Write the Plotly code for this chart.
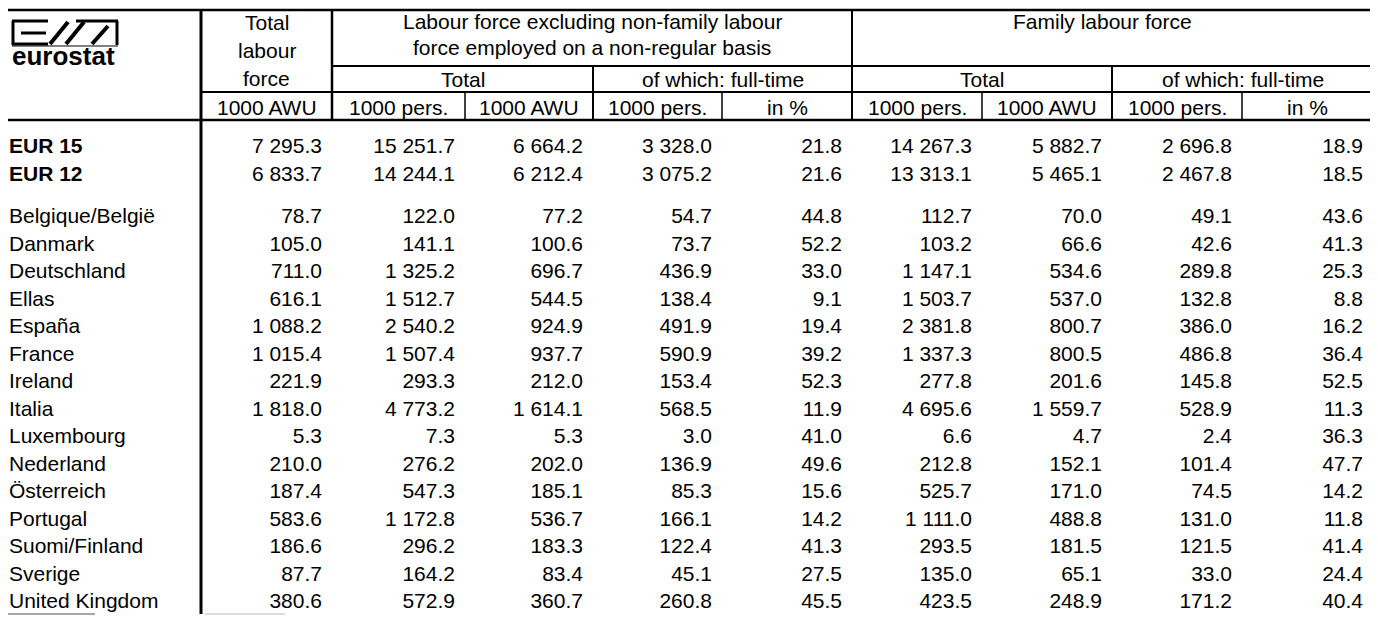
import plotly.graph_objects as go

# Eurostat table: labour force in agriculture, EUR 15 and member states

countries = ["EUR 15", "EUR 12",
             "Belgique/België", "Danmark", "Deutschland", "Ellas", "España",
             "France", "Ireland", "Italia", "Luxembourg", "Nederland",
             "Österreich", "Portugal", "Suomi/Finland", "Sverige", "United Kingdom"]

total_awu = [7295.3, 6833.7, 78.7, 105.0, 711.0, 616.1, 1088.2, 1015.4, 221.9,
             1818.0, 5.3, 210.0, 187.4, 583.6, 186.6, 87.7, 380.6]
lab_total_pers = [15251.7, 14244.1, 122.0, 141.1, 1325.2, 1512.7, 2540.2, 1507.4, 293.3,
                  4773.2, 7.3, 276.2, 547.3, 1172.8, 296.2, 164.2, 572.9]
lab_total_awu = [6664.2, 6212.4, 77.2, 100.6, 696.7, 544.5, 924.9, 937.7, 212.0,
                 1614.1, 5.3, 202.0, 185.1, 536.7, 183.3, 83.4, 360.7]
lab_ft_pers = [3328.0, 3075.2, 54.7, 73.7, 436.9, 138.4, 491.9, 590.9, 153.4,
               568.5, 3.0, 136.9, 85.3, 166.1, 122.4, 45.1, 260.8]
lab_ft_pct = [21.8, 21.6, 44.8, 52.2, 33.0, 9.1, 19.4, 39.2, 52.3,
              11.9, 41.0, 49.6, 15.6, 14.2, 41.3, 27.5, 45.5]
fam_total_pers = [14267.3, 13313.1, 112.7, 103.2, 1147.1, 1503.7, 2381.8, 1337.3, 277.8,
                  4695.6, 6.6, 212.8, 525.7, 1111.0, 293.5, 135.0, 423.5]
fam_total_awu = [5882.7, 5465.1, 70.0, 66.6, 534.6, 537.0, 800.7, 800.5, 201.6,
                 1559.7, 4.7, 152.1, 171.0, 488.8, 181.5, 65.1, 248.9]
fam_ft_pers = [2696.8, 2467.8, 49.1, 42.6, 289.8, 132.8, 386.0, 486.8, 145.8,
               528.9, 2.4, 101.4, 74.5, 131.0, 121.5, 33.0, 171.2]
fam_ft_pct = [18.9, 18.5, 43.6, 41.3, 25.3, 8.8, 16.2, 36.4, 52.5,
              11.3, 36.3, 47.7, 14.2, 11.8, 41.4, 24.4, 40.4]

units = ["1000 AWU", "1000 pers.", "1000 AWU", "1000 pers.", "in %",
         "1000 pers.", "1000 AWU", "1000 pers.", "in %"]

columns = [total_awu, lab_total_pers, lab_total_awu, lab_ft_pers, lab_ft_pct,
           fam_total_pers, fam_total_awu, fam_ft_pers, fam_ft_pct]

# layout (pixel grid of the page); the page body has an 8px margin,
# so the figure is drawn 8px smaller and its axes start at 8
W, H = 1378, 617
PAD = 8
bounds = [201, 332, 465, 593, 722, 852, 982, 1112, 1242, 1373]
FONT = "Arial, Liberation Sans, sans-serif"
FS = 21


def row_y(i):
    if i < 2:
        return 148 + i * 28
    return 218 + (i - 2) * 27.5


def fmt(v):
    return f"{v:,.1f}".replace(",", " ")


ys = [row_y(i) for i in range(len(countries))]

fig = go.Figure()

# country names
fig.add_trace(go.Scatter(
    x=[9] * len(countries), y=ys, mode="text",
    text=[f"<b>{c}</b>" if c.startswith("EUR") else c for c in countries],
    textposition="middle right",
    textfont=dict(family=FONT, size=FS, color="black"),
    hoverinfo="skip", showlegend=False))

# numeric columns, right aligned
for k, col in enumerate(columns):
    xr = bounds[k + 1] - 10
    fig.add_trace(go.Scatter(
        x=[xr] * len(col), y=ys, mode="text",
        text=[fmt(v) for v in col],
        textposition="middle left",
        textfont=dict(family=FONT, size=FS, color="black"),
        hoverinfo="skip", showlegend=False))

ann = []


def label(x, y, t):
    ann.append(dict(x=x, y=y, xref="x", yref="y", text=t, showarrow=False,
                    xanchor="center", yanchor="middle",
                    font=dict(family=FONT, size=FS, color="black")))


c0 = (bounds[0] + bounds[1]) / 2
label(c0, 22, "Total")
label(c0, 50, "labour")
label(c0, 78, "force")
label((bounds[1] + bounds[5]) / 2, 21, "Labour force excluding non-family labour")
label((bounds[1] + bounds[5]) / 2, 47, "force employed on a non-regular basis")
label(1102, 21, "Family labour force")
label((bounds[1] + bounds[3]) / 2, 79, "Total")
label((bounds[3] + bounds[5]) / 2, 79, "of which: full-time")
label((bounds[5] + bounds[7]) / 2, 79, "Total")
label((bounds[7] + bounds[9]) / 2, 79, "of which: full-time")
for k, u in enumerate(units):
    label((bounds[k] + bounds[k + 1]) / 2, 107, u)

# eurostat logo text
ann.append(dict(x=10, y=56, xref="x", yref="y", text="<b>eurostat</b>", showarrow=False,
                xanchor="left", yanchor="middle",
                font=dict(family="Liberation Sans, Arial", size=26, color="black")))

shapes = []


def hline(y, x0, x1, w=2, color="black"):
    shapes.append(dict(type="line", xref="x", yref="y", x0=x0, x1=x1, y0=y, y1=y,
                       line=dict(color=color, width=w)))


def vline(x, y0, y1, w=2, color="black"):
    shapes.append(dict(type="line", xref="x", yref="y", x0=x, x1=x, y0=y0, y1=y1,
                       line=dict(color=color, width=w)))


hline(10, 8, 1373, 2.5)
hline(66, bounds[1], 1373, 2)
hline(92, bounds[0], 1373, 2)
hline(120, 8, 1373, 2.5)
vline(bounds[0], 10, 614, 3)
vline(bounds[1], 10, 120, 2.5)
vline(bounds[5], 10, 120, 2)
for b in (bounds[3], bounds[7]):
    vline(b, 66, 120, 2)
for b in (bounds[2], bounds[4], bounds[6], bounds[8]):
    vline(b, 92, 120, 1.5)
hline(614, 8, 95, 1.5, "#888")
hline(614, 205, 285, 1, "#bbb")

# logo graphic
logo = [
    (12, 21, 48, 21, 3), (13, 21, 13, 45, 3), (12, 44, 48, 44, 3), (21, 33, 46, 33, 3),
    (50, 44, 68, 22, 4), (66, 44, 84, 22, 4), (76, 21, 118, 21, 3),
    (117, 21, 117, 45, 3), (92, 44, 108, 26, 4), (12, 46, 118, 46, 1),
]
for x0, y0, x1, y1, w in logo:
    shapes.append(dict(type="line", xref="x", yref="y", x0=x0, x1=x1, y0=y0, y1=y1,
                       line=dict(color="black", width=w)))

fig.update_layout(
    width=W - PAD, height=H - PAD,
    margin=dict(l=0, r=0, t=0, b=0),
    paper_bgcolor="white", plot_bgcolor="white",
    xaxis=dict(range=[PAD, W], visible=False, fixedrange=True),
    yaxis=dict(range=[H, PAD], visible=False, fixedrange=True),
    annotations=ann, shapes=shapes,
    showlegend=False,
)

fig.write_html("out.html", config={"displayModeBar": False})
